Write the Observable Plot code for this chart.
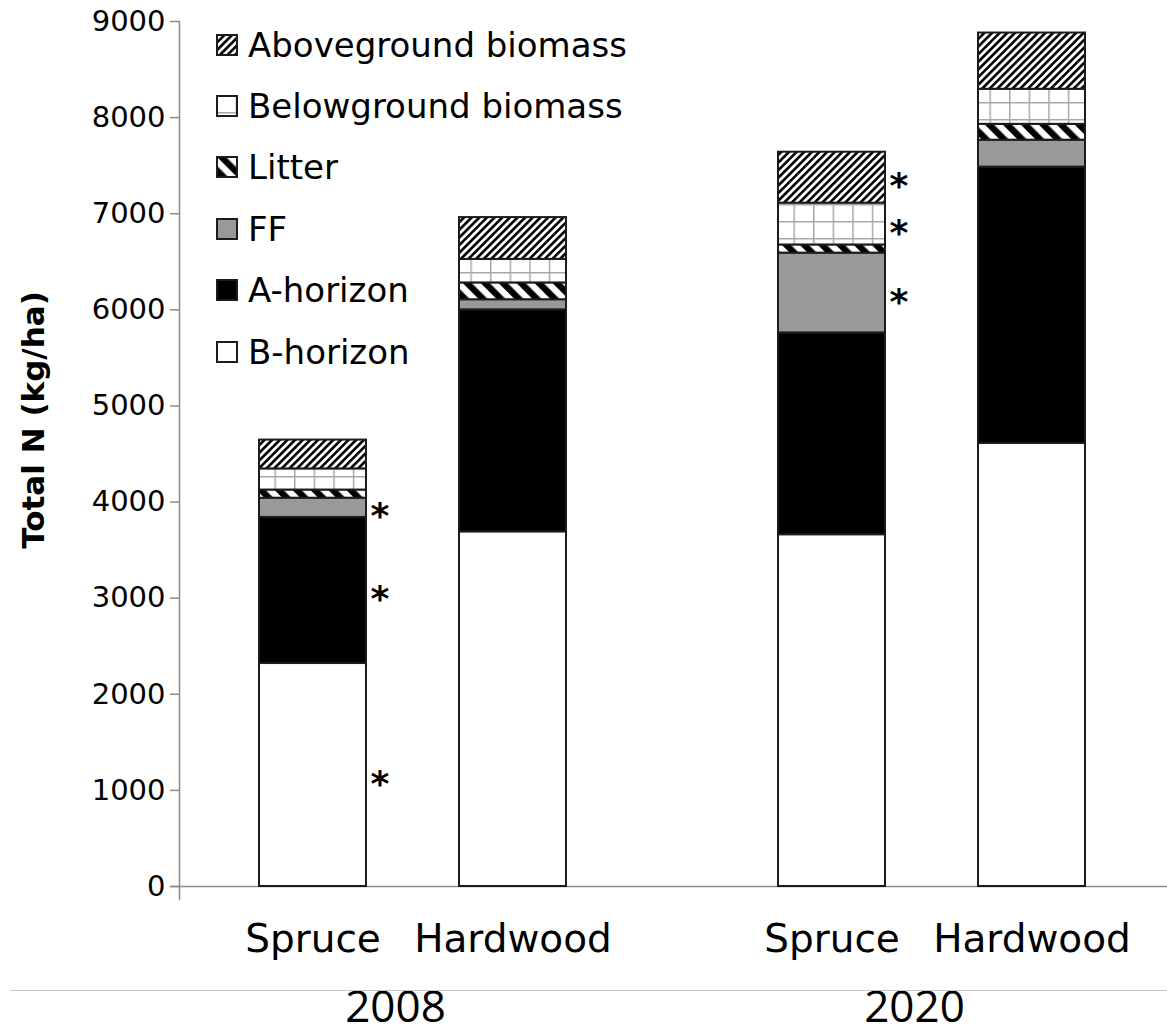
<!DOCTYPE html>
<html>
<head>
<meta charset="utf-8">
<script src="https://cdn.jsdelivr.net/npm/d3@7"></script>
<script src="https://cdn.jsdelivr.net/npm/@observablehq/plot@0.6"></script>
<style>
  html, body { margin: 0; padding: 0; background: #fff; }
  #wrap { position: relative; width: 1167px; height: 1035px; overflow: hidden; }
  #legend { position: absolute; left: 216px; top: 14px; font-family: "DejaVu Sans", sans-serif; font-size: 34px; color: #000; }
  #legend .row { display: flex; align-items: center; height: 61.4px; }
  #legend svg { margin-right: 10px; flex: none; }
  #ytitle { position: absolute; left: 33px; top: 420px; transform: translate(-50%, -50%) rotate(-90deg);
            font-family: "DejaVu Sans", sans-serif; font-weight: bold; font-size: 31px; white-space: nowrap; }
  #sep { position: absolute; left: 10px; right: 0; top: 990px; border-top: 1.5px solid #c8c8c8; }
  .fxlab text { font-family: "Open Sans", "Liberation Sans", sans-serif !important; }
</style>
</head>
<body>
<svg width="0" height="0" style="position:absolute">
  <defs>
    <pattern id="pAbove" patternUnits="userSpaceOnUse" width="5.4" height="10" patternTransform="rotate(45)">
      <rect width="5.4" height="10" fill="#fff"/>
      <rect width="2.6" height="10" fill="#000"/>
    </pattern>
    <pattern id="pBelow" patternUnits="userSpaceOnUse" width="19.6" height="17" x="0" y="0">
      <rect width="19.6" height="17" fill="#fff"/>
      <path d="M0,0V17M0,0H19.6" stroke="#a8a8a8" stroke-width="3"/>
    </pattern>
    <pattern id="pLitter" patternUnits="userSpaceOnUse" width="12.7" height="10" patternTransform="rotate(-45)">
      <rect width="12.7" height="10" fill="#fff"/>
      <rect width="6.4" height="10" fill="#000"/>
    </pattern>
  </defs>
</svg>
<div id="wrap">
  <div id="legend"></div>
  <div id="ytitle">Total N (kg/ha)</div>
  <div id="sep"></div>
</div>
<script>
// ---- data ----
const years = ["2008", "2020"];
const forests = ["Spruce", "Hardwood"];
const layers = ["B-horizon", "A-horizon", "FF", "Litter", "Belowground biomass", "Aboveground biomass"];
const spruce2008   = [2320, 1520, 200,  85, 220, 300];
const hardwood2008 = [3690, 2310, 105, 175, 245, 435];
const spruce2020   = [3660, 2100, 830,  85, 435, 530];
const hardwood2020 = [4610, 2875, 280, 165, 365, 585];
const sigSpruce2008 = ["B-horizon", "A-horizon", "FF"];
const sigSpruce2020 = ["FF", "Belowground biomass", "Aboveground biomass"];
const yTicks = [0, 1000, 2000, 3000, 4000, 5000, 6000, 7000, 8000, 9000];
const legendOrder = ["Aboveground biomass", "Belowground biomass", "Litter", "FF", "A-horizon", "B-horizon"];
const layerFills = ["#ffffff", "#000000", "#999999", "url(#pLitter)", "url(#pBelow)", "url(#pAbove)"];

const series = [
  {year: "2008", forest: "Spruce", values: spruce2008, sig: sigSpruce2008},
  {year: "2008", forest: "Hardwood", values: hardwood2008, sig: []},
  {year: "2020", forest: "Spruce", values: spruce2020, sig: sigSpruce2020},
  {year: "2020", forest: "Hardwood", values: hardwood2020, sig: []}
];
const rows = series.flatMap(s => layers.map((layer, i) => ({
  year: s.year, forest: s.forest, layer, value: s.values[i], sig: s.sig.includes(layer)
})));

const font = "DejaVu Sans";

const chart = Plot.plot({
  width: 1167,
  height: 1035,
  marginTop: 21,
  marginBottom: 149,
  marginLeft: 179,
  marginRight: 0,
  style: {fontFamily: font, background: "transparent", overflow: "visible"},
  fx: {domain: years, paddingInner: 0.0988, paddingOuter: 0, align: 0, label: null},
  x: {domain: forests, paddingInner: 0.464, paddingOuter: 0.397, label: null},
  y: {domain: [0, 9000], label: null},
  color: {type: "ordinal", domain: layers, range: layerFills},
  marks: [
    Plot.frame({facet: "super", anchor: "bottom", stroke: "#8c8c8c", strokeWidth: 1.5, insetLeft: -9}),
    Plot.frame({facet: "super", anchor: "left", stroke: "#8c8c8c", strokeWidth: 1.5, insetBottom: -13}),
    Plot.barY(rows, {fx: "year", x: "forest", y: "value", fill: "layer", stroke: "#1c1c1c", strokeWidth: 2}),
    Plot.text(rows, Plot.stackY({
      fx: "year", x: "forest", y: "value",
      text: d => d.sig ? "*" : "",
      dx: 67, dy: 9, fontSize: 36, fontWeight: "bold", fontFamily: font, fill: "#000"
    })),
    Plot.axisY({ticks: yTicks, tickSize: 9, tickPadding: 5, fontSize: 29, fontFamily: font,
                stroke: "#8c8c8c", strokeWidth: 1.5, fill: "#000", label: null, tickFormat: d => String(d)}),
    Plot.axisX({tickSize: 0, tickPadding: 38, fontSize: 39, fontFamily: font, fill: "#000", label: null}),
    Plot.axisFx({anchor: "bottom", tickSize: 0, tickPadding: 104, fontSize: 44, className: "fxlab",
                 fill: "#000", label: null, dx: -18})
  ]
});
document.getElementById("wrap").prepend(chart);

// ---- legend ----
const fillOf = Object.fromEntries(layers.map((l, i) => [l, layerFills[i]]));
const legend = document.getElementById("legend");
for (const l of legendOrder) {
  const row = document.createElement("div");
  row.className = "row";
  row.innerHTML = `<svg width="22" height="22"><rect x="1" y="1" width="20" height="20" fill="${fillOf[l]}" stroke="#1c1c1c" stroke-width="2"/></svg><span>${l}</span>`;
  legend.appendChild(row);
}
</script>
</body>
</html>
